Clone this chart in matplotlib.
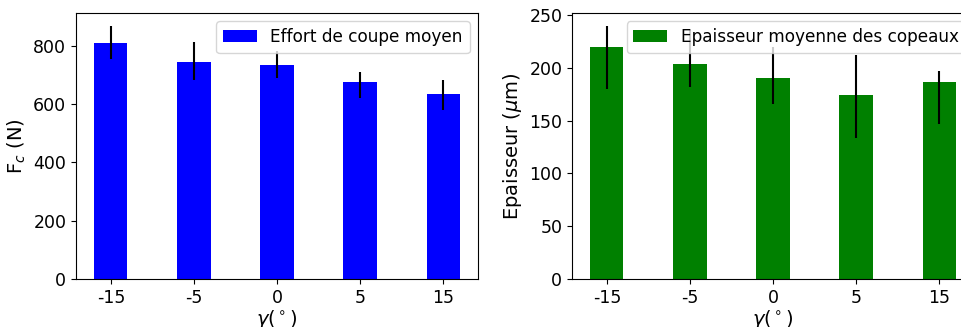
import matplotlib
matplotlib.use("Agg")
import matplotlib.pyplot as plt
import numpy as np

categories = ["-15", "-5", "0", "5", "15"]

force_mean = [810, 745, 735, 676, 635]
force_low = [756, 681, 690, 622, 580]
force_high = [869, 814, 782, 710, 683]

thick_mean = [220, 204, 190, 174, 187]
thick_low = [180, 182, 166, 134, 147]
thick_high = [240, 236, 220, 212, 197]

plt.rcParams['font.size'] = 12.5
plt.rcParams['axes.labelsize'] = 14
plt.rcParams['legend.fontsize'] = 12.2

fig = plt.figure(figsize=(9.61, 3.27), dpi=100)
W, H = 961, 327
ax1 = fig.add_axes([76 / W, (H - 279) / H, 402 / W, 266 / H])
ax2 = fig.add_axes([572 / W, (H - 279) / H, 402 / W, 266 / H])

x = np.arange(len(categories))

def yerr(mean, low, high):
    m = np.array(mean, float)
    return [m - np.array(low, float), np.array(high, float) - m]

ax1.bar(x, force_mean, width=0.4, color='blue', yerr=yerr(force_mean, force_low, force_high),
        ecolor='black', label='Effort de coupe moyen')
ax1.set_xticks(x)
ax1.set_xticklabels(categories)
ax1.set_ylabel(r'F$_c$ (N)')
ax1.set_xlabel(r'$\gamma (^\circ)$', labelpad=1)
ax1.legend(loc='upper right')

ax2.bar(x, thick_mean, width=0.4, color='green', yerr=yerr(thick_mean, thick_low, thick_high),
        ecolor='black', label='Epaisseur moyenne des copeaux')
ax2.set_xticks(x)
ax2.set_xticklabels(categories)
ax2.set_ylabel(r'Epaisseur ($\mu$m)')
ax2.set_xlabel(r'$\gamma (^\circ)$', labelpad=1)
ax2.legend(loc='upper right')

fig.savefig('out.png', dpi=100)
